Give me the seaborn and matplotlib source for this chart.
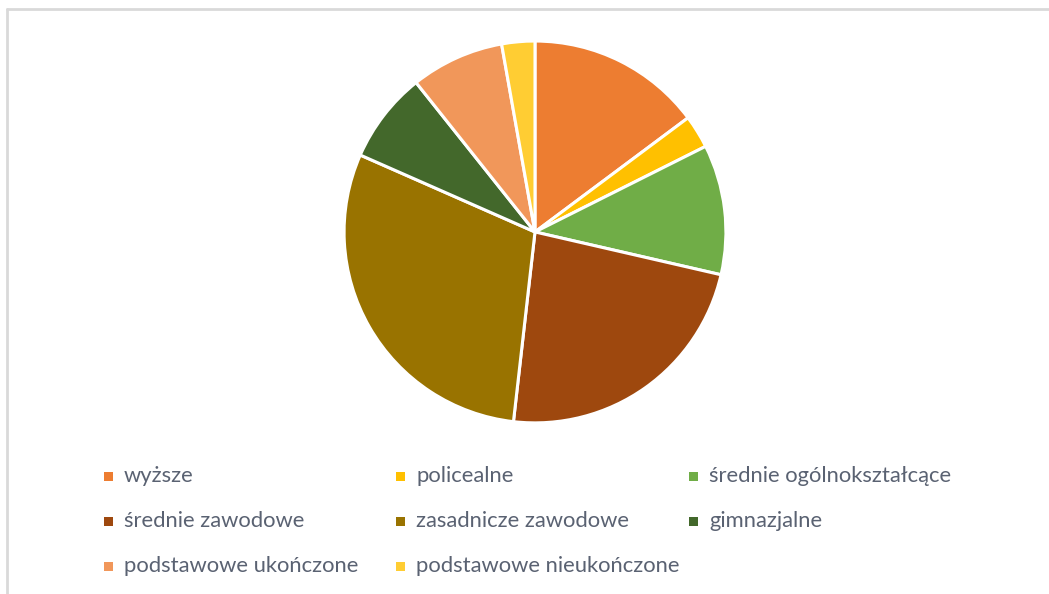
import matplotlib
matplotlib.use('Agg')
import matplotlib.pyplot as plt
import seaborn as sns
from matplotlib.lines import Line2D
from matplotlib.patches import Rectangle

### Data
kategorie = ['wyższe', 'policealne', 'średnie ogólnokształcące',
             'średnie zawodowe', 'zasadnicze zawodowe', 'gimnazjalne',
             'podstawowe ukończone', 'podstawowe nieukończone']
udzial = [14.8, 2.8, 11.0, 23.2, 29.8, 7.7, 7.9, 2.8]
kolory = ['#ED7D31', '#FFC000', '#70AD47', '#9E480E',
          '#997300', '#43682B', '#F1975A', '#FFCD33']

sns.set_style("white")
plt.rcParams['font.family'] = ['Lato', 'DejaVu Sans']
text_color = '#5A6272'

fig = plt.figure(figsize=(10.49, 5.94), dpi=100)
ax = fig.add_axes([0.328, 0.288, 0.364, 0.643])
ax.pie(udzial, colors=kolory, startangle=90, counterclock=False,
       wedgeprops={'edgecolor': 'white', 'linewidth': 2.2})
ax.set_xlim(-1.0, 1.0)
ax.set_ylim(-1.0, 1.0)
ax.set_aspect('equal')
ax.axis('off')

### legend drawn as a 3 column grid (equal column widths like in Excel)
col_x = [108, 400, 693]
row_y = [476, 521, 566]
W, H = 1049, 594
for i, (lab, c) in enumerate(zip(kategorie, kolory)):
    x = col_x[i % 3]
    y = row_y[i // 3]
    fig.add_artist(Rectangle(((x - 4) / W, 1 - (y + 5) / H), 9 / W, 9 / H,
                             transform=fig.transFigure, facecolor=c,
                             edgecolor='none'))
    fig.text((x + 16) / W, 1 - y / H, lab, fontsize=15.8, color=text_color,
             va='center', ha='left')

### chart frame (top and left visible)
fig.add_artist(Line2D([7 / W, 1], [1 - 9 / H, 1 - 9 / H],
                      transform=fig.transFigure, color='#D9D9D9', lw=2))
fig.add_artist(Line2D([7 / W, 7 / W], [0, 1 - 9 / H],
                      transform=fig.transFigure, color='#D9D9D9', lw=2))

fig.savefig('out.png', dpi=100, facecolor='white')
